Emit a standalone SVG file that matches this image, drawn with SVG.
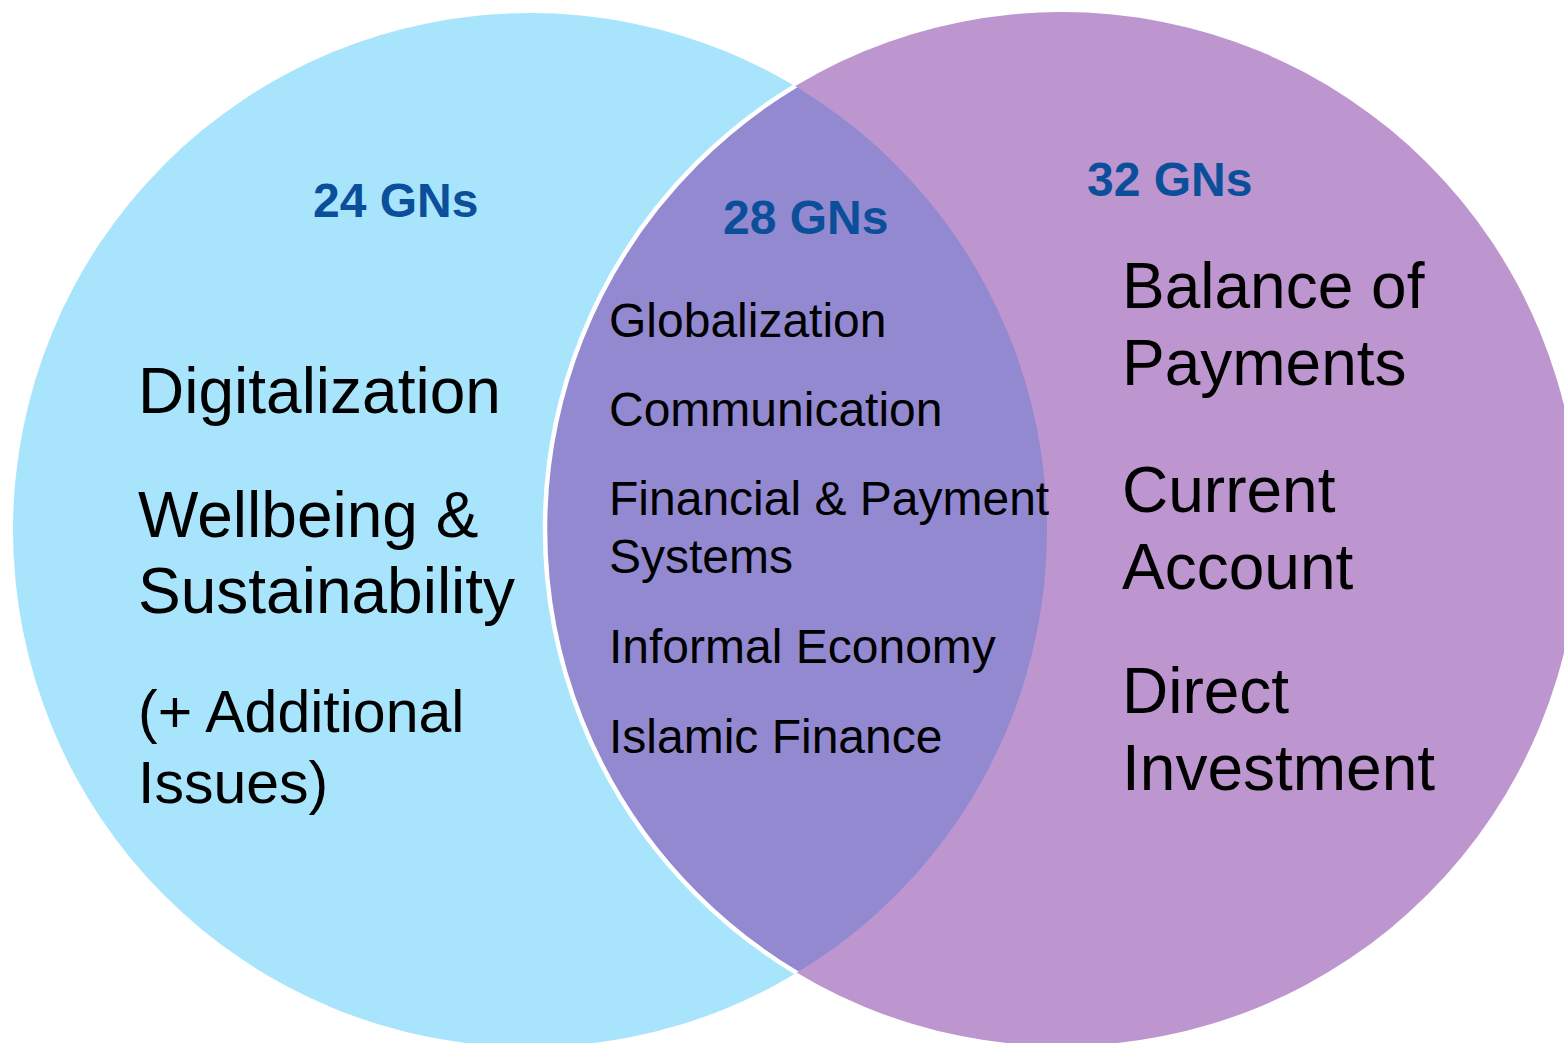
<svg xmlns="http://www.w3.org/2000/svg" width="1564" height="1043" viewBox="0 0 1564 1043">
  <defs>
    <clipPath id="clip-left">
      <circle cx="530" cy="530" r="517"/>
    </clipPath>
    <clipPath id="clip-right">
      <circle cx="1062" cy="529" r="517"/>
    </clipPath>
    <style>
      text { font-family: "Liberation Sans", Arial, sans-serif; fill: #000000; }
      .count { font-weight: bold; font-size: 48px; fill: #0b4f9a; }
      .big { font-size: 64px; }
      .mid { font-size: 48px; }
      .note { font-size: 59px; }
    </style>
  </defs>

  <rect width="1564" height="1043" fill="#ffffff"/>

  <!-- two sets and their overlap -->
  <g id="shapes">
    <circle cx="530" cy="530" r="517" fill="#a8e5fd"/>
    <circle cx="1062" cy="529" r="517" fill="#bd95cf"/>
    <circle cx="530" cy="530" r="517" fill="#9389d1" clip-path="url(#clip-right)"/>
    <circle cx="1062" cy="529" r="517" fill="none" stroke="#ffffff" stroke-width="4.5" clip-path="url(#clip-left)"/>
  </g>

  <!-- left set -->
  <g id="set-left">
    <text class="count" x="313" y="217">24 GNs</text>
    <text class="big" x="138" y="413">Digitalization</text>
    <text class="big" x="138" y="537">Wellbeing &amp;</text>
    <text class="big" x="138" y="613">Sustainability</text>
    <text class="note" x="138" y="732">(+ Additional</text>
    <text class="note" x="138" y="803">Issues)</text>
  </g>

  <!-- overlap -->
  <g id="set-overlap">
    <text class="count" x="723" y="234">28 GNs</text>
    <text class="mid" x="609" y="337">Globalization</text>
    <text class="mid" x="609" y="426">Communication</text>
    <text class="mid" x="609" y="515">Financial &amp; Payment</text>
    <text class="mid" x="609" y="573">Systems</text>
    <text class="mid" x="609" y="663">Informal Economy</text>
    <text class="mid" x="609" y="753">Islamic Finance</text>
  </g>

  <!-- right set -->
  <g id="set-right">
    <text class="count" x="1087" y="196">32 GNs</text>
    <text class="big" x="1122" y="308">Balance of</text>
    <text class="big" x="1122" y="385">Payments</text>
    <text class="big" x="1122" y="512">Current</text>
    <text class="big" x="1122" y="589">Account</text>
    <text class="big" x="1122" y="713">Direct</text>
    <text class="big" x="1122" y="790">Investment</text>
  </g>
</svg>
